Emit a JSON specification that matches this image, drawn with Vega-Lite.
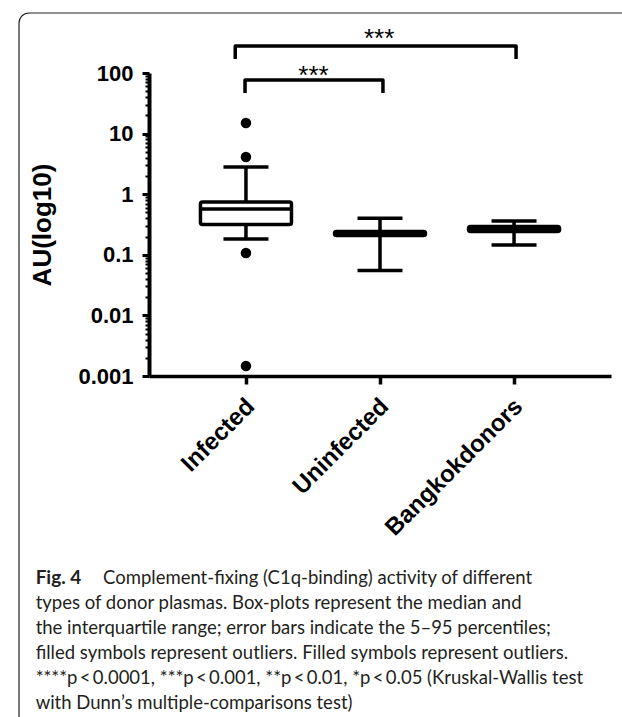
{
  "$schema": "https://vega.github.io/schema/vega-lite/v6.json",
  "width": 462,
  "height": 303,
  "autosize": "none",
  "padding": {"left": 149, "top": 73, "right": 11, "bottom": 341},
  "background": "white",
  "config": {"view": {"stroke": null}, "font": "Liberation Sans"},
  "datasets": {
    "boxes": [
      {"group": "Infected", "idx": 1, "p5": 0.182, "q1": 0.316, "median": 0.57, "q3": 0.743, "p95": 2.81},
      {"group": "Uninfected", "idx": 2, "p5": 0.055, "q1": 0.208, "median": 0.225, "q3": 0.242, "p95": 0.40},
      {"group": "Bangkokdonors", "idx": 3, "p5": 0.145, "q1": 0.242, "median": 0.265, "q3": 0.293, "p95": 0.361}
    ],
    "outliers": [
      {"group": "Infected", "idx": 1, "value": 15.0},
      {"group": "Infected", "idx": 1, "value": 4.1},
      {"group": "Infected", "idx": 1, "value": 0.107},
      {"group": "Infected", "idx": 1, "value": 0.00146}
    ],
    "brackets": [
      {"bracket": "Infected vs Bangkokdonors", "step": 1, "x": 0.92, "y": 170},
      {"bracket": "Infected vs Bangkokdonors", "step": 2, "x": 0.92, "y": 279},
      {"bracket": "Infected vs Bangkokdonors", "step": 3, "x": 3.015, "y": 279},
      {"bracket": "Infected vs Bangkokdonors", "step": 4, "x": 3.015, "y": 170},
      {"bracket": "Infected vs Uninfected", "step": 1, "x": 0.993, "y": 46.8},
      {"bracket": "Infected vs Uninfected", "step": 2, "x": 0.993, "y": 76.6},
      {"bracket": "Infected vs Uninfected", "step": 3, "x": 2.022, "y": 76.6},
      {"bracket": "Infected vs Uninfected", "step": 4, "x": 2.022, "y": 46.8}
    ],
    "stars": [
      {"label": "***", "x": 1.993, "y": 270},
      {"label": "***", "x": 1.504, "y": 66.3}
    ]
  },
  "layer": [
    {
      "data": {"values": [{}]},
      "mark": {"type": "rect", "fill": null, "stroke": "#222222", "strokeWidth": 1.2, "cornerRadius": 10},
      "encoding": {
        "x": {"datum": -0.693, "type": "quantitative", "scale": {"domain": [0.314, 3.686], "nice": false, "zero": false}, "axis": null},
        "x2": {"datum": 3.898},
        "y": {"datum": 977, "type": "quantitative", "scale": {"type": "log", "domain": [0.001, 100], "nice": false}, "axis": null},
        "y2": {"datum": 4.6e-10}
      }
    },
    {
      "data": {"name": "boxes"},
      "mark": {"type": "rule", "color": "black", "strokeWidth": 3.5},
      "encoding": {
        "x": {"field": "idx", "type": "quantitative", "scale": {"domain": [0.314, 3.686], "nice": false, "zero": false},
          "axis": {"orient": "bottom", "values": [1, 2, 3], "labelExpr": "datum.value == 1 ? 'Infected' : datum.value == 2 ? 'Uninfected' : 'Bangkokdonors'",
            "title": null, "grid": false, "labelAngle": -45, "labelFontSize": 24, "labelFontWeight": "bold", "labelColor": "black",
            "labelOverlap": false, "labelLimit": 0, "labelBound": false, "labelFlush": false, "labelOffset": -4,
            "labelFont": "Liberation Sans", "domainColor": "black", "domainWidth": 3.5, "tickColor": "black", "tickWidth": 3.5, "tickSize": 8, "labelPadding": 10}},
        "y": {"field": "p5", "type": "quantitative", "scale": {"type": "log", "domain": [0.001, 100], "nice": false},
          "axis": {"orient": "left", "values": [0.001, 0.01, 0.1, 1, 10, 100], "format": "~g", "title": "AU(log10)", "grid": false,
            "labelFontSize": 22, "labelFontWeight": "bold", "labelColor": "black", "labelFont": "Liberation Sans", "labelPadding": 9,
            "titleFontSize": 26, "titleFontWeight": "bold", "titleColor": "black", "titleFont": "Liberation Sans", "titlePadding": 22,
            "domainColor": "black", "domainWidth": 4, "tickColor": "black", "tickWidth": 3, "tickSize": 7}},
        "y2": {"field": "p95"}
      }
    },
    {
      "data": {"values": [{"v": 0.002}, {"v": 0.003}, {"v": 0.004}, {"v": 0.005}, {"v": 0.006}, {"v": 0.007}, {"v": 0.008}, {"v": 0.009}]},
      "mark": {"type": "point", "opacity": 0},
      "encoding": {
        "y": {"field": "v", "type": "quantitative", "scale": {"type": "log", "domain": [0.001, 100], "nice": false},
          "axis": {"orient": "left", "values": [0.002, 0.003, 0.004, 0.005, 0.006, 0.007, 0.008, 0.009, 0.02, 0.03, 0.04, 0.05, 0.06, 0.07, 0.08, 0.09, 0.2, 0.3, 0.4, 0.5, 0.6, 0.7, 0.8, 0.9, 2, 3, 4, 5, 6, 7, 8, 9, 20, 30, 40, 50, 60, 70, 80, 90],
            "labels": false, "domain": false, "grid": false, "title": null, "tickColor": "black", "tickWidth": 2, "tickSize": 4}}
      }
    },
    {
      "data": {"name": "boxes"},
      "mark": {"type": "bar", "width": 91, "fill": "white", "stroke": "black", "strokeWidth": 3.5, "strokeJoin": "round", "cornerRadius": 2},
      "encoding": {
        "x": {"field": "idx", "type": "quantitative", "scale": {"domain": [0.314, 3.686], "nice": false, "zero": false}, "axis": null},
        "y": {"field": "q1", "type": "quantitative", "scale": {"type": "log", "domain": [0.001, 100], "nice": false}, "axis": null},
        "y2": {"field": "q3"}
      }
    },
    {
      "data": {"name": "boxes"},
      "mark": {"type": "tick", "orient": "horizontal", "color": "black", "size": 91, "thickness": 3.5, "opacity": 1},
      "encoding": {
        "x": {"field": "idx", "type": "quantitative", "scale": {"domain": [0.314, 3.686], "nice": false, "zero": false}, "axis": null},
        "y": {"field": "median", "type": "quantitative", "scale": {"type": "log", "domain": [0.001, 100], "nice": false}, "axis": null}
      }
    },
    {
      "data": {"name": "boxes"},
      "mark": {"type": "tick", "orient": "horizontal", "color": "black", "size": 45, "thickness": 3.5, "opacity": 1},
      "encoding": {
        "x": {"field": "idx", "type": "quantitative", "scale": {"domain": [0.314, 3.686], "nice": false, "zero": false}, "axis": null},
        "y": {"field": "p95", "type": "quantitative", "scale": {"type": "log", "domain": [0.001, 100], "nice": false}, "axis": null}
      }
    },
    {
      "data": {"name": "boxes"},
      "mark": {"type": "tick", "orient": "horizontal", "color": "black", "size": 45, "thickness": 3.5, "opacity": 1},
      "encoding": {
        "x": {"field": "idx", "type": "quantitative", "scale": {"domain": [0.314, 3.686], "nice": false, "zero": false}, "axis": null},
        "y": {"field": "p5", "type": "quantitative", "scale": {"type": "log", "domain": [0.001, 100], "nice": false}, "axis": null}
      }
    },
    {
      "data": {"name": "outliers"},
      "mark": {"type": "circle", "color": "black", "size": 110, "opacity": 1},
      "encoding": {
        "x": {"field": "idx", "type": "quantitative", "scale": {"domain": [0.314, 3.686], "nice": false, "zero": false}, "axis": null},
        "y": {"field": "value", "type": "quantitative", "scale": {"type": "log", "domain": [0.001, 100], "nice": false}, "axis": null}
      }
    },
    {
      "data": {"name": "brackets"},
      "mark": {"type": "line", "color": "black", "strokeWidth": 3.5, "strokeJoin": "round"},
      "encoding": {
        "x": {"field": "x", "type": "quantitative", "scale": {"domain": [0.314, 3.686], "nice": false, "zero": false}, "axis": null},
        "y": {"field": "y", "type": "quantitative", "scale": {"type": "log", "domain": [0.001, 100], "nice": false}, "axis": null},
        "detail": {"field": "bracket", "type": "nominal"},
        "order": {"field": "step", "type": "quantitative"}
      }
    },
    {
      "data": {"name": "stars"},
      "mark": {"type": "text", "font": "Liberation Sans", "fontSize": 26, "color": "black", "align": "center", "baseline": "alphabetic"},
      "encoding": {
        "x": {"field": "x", "type": "quantitative", "scale": {"domain": [0.314, 3.686], "nice": false, "zero": false}, "axis": null},
        "y": {"field": "y", "type": "quantitative", "scale": {"type": "log", "domain": [0.001, 100], "nice": false}, "axis": null},
        "text": {"field": "label", "type": "nominal"}
      }
    },
    {
      "data": {"values": [{}]},
      "mark": {"type": "text", "text": "Fig. 4", "font": "Lato", "fontWeight": "bold", "fontSize": 19, "color": "#231f20", "align": "left", "baseline": "alphabetic"},
      "encoding": {
        "x": {"datum": -0.569, "type": "quantitative", "scale": {"domain": [0.314, 3.686], "nice": false, "zero": false}, "axis": null},
        "y": {"datum": 3.7e-7, "type": "quantitative", "scale": {"type": "log", "domain": [0.001, 100], "nice": false}, "axis": null}
      }
    },
    {
      "data": {"values": [{}]},
      "mark": {"type": "text", "text": "Complement-fixing (C1q-binding) activity of different", "font": "Lato", "fontSize": 18.5, "color": "#231f20", "align": "left", "baseline": "alphabetic"},
      "encoding": {
        "x": {"datum": -0.066, "type": "quantitative", "scale": {"domain": [0.314, 3.686], "nice": false, "zero": false}, "axis": null},
        "y": {"datum": 3.7e-7, "type": "quantitative", "scale": {"type": "log", "domain": [0.001, 100], "nice": false}, "axis": null}
      }
    },
    {
      "data": {"values": [{}]},
      "mark": {"type": "text", "text": ["types of donor plasmas. Box-plots represent the median and", "the interquartile range; error bars indicate the 5–95 percentiles;", "filled symbols represent outliers. Filled symbols represent outliers.", "****p\u2009<\u20090.0001, ***p\u2009<\u20090.001, **p\u2009<\u20090.01, *p\u2009<\u20090.05 (Kruskal-Wallis test", "with Dunn’s multiple-comparisons test)"],
        "font": "Lato", "fontSize": 18.5, "lineHeight": 25, "color": "#231f20", "align": "left", "baseline": "alphabetic"},
      "encoding": {
        "x": {"datum": -0.569, "type": "quantitative", "scale": {"domain": [0.314, 3.686], "nice": false, "zero": false}, "axis": null},
        "y": {"datum": 1.43e-7, "type": "quantitative", "scale": {"type": "log", "domain": [0.001, 100], "nice": false}, "axis": null}
      }
    }
  ],
  "resolve": {"axis": {"x": "independent", "y": "independent"}}
}
